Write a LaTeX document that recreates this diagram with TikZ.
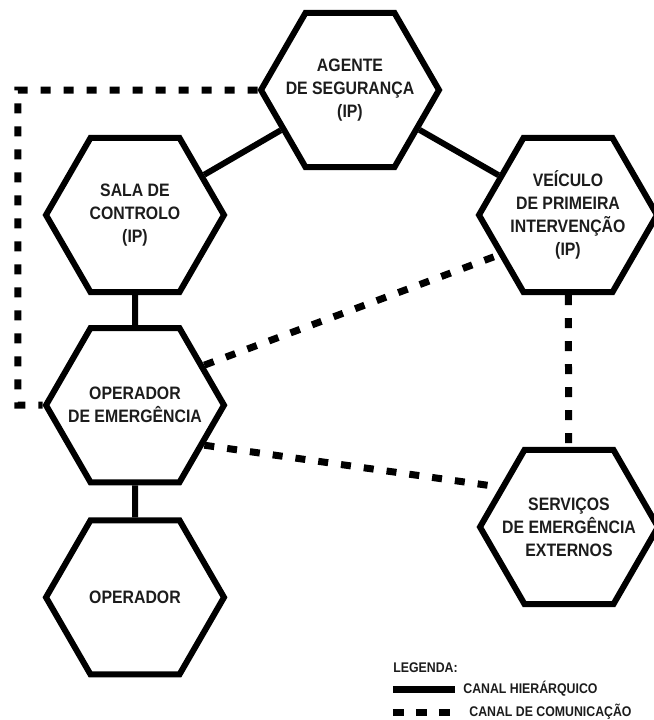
\documentclass[tikz,border=0pt]{standalone}
\usepackage{fontspec}
\setmainfont{Liberation Sans}[FakeStretch=0.88]
\usepackage{tikz}
\usetikzlibrary{positioning,shapes.geometric}
\definecolor{hexInk}{HTML}{000000}
\definecolor{labelInk}{HTML}{1C1C1C}

\begin{document}
\begin{tikzpicture}[x=0.5pt,y=-0.5pt,node distance=15pt]
  \tikzstyle{hexNode}=[draw=hexInk,line width=3pt,regular polygon,regular polygon sides=6,minimum size=89pt,inner sep=-12pt,align=center,text=labelInk,font=\fontsize{9}{11.5}\selectfont\bfseries]
  \tikzstyle{hierLine}=[draw=hexInk,line width=3pt]
  \tikzstyle{commLine}=[draw=hexInk,line width=3.5pt,dash pattern=on 5pt off 6.5pt]
  \tikzstyle{legendText}=[anchor=west,inner sep=0pt,text=labelInk,font=\fontsize{7}{8}\selectfont\bfseries]
  \useasboundingbox (0,0) rectangle (654,720);
  \node[hexNode] (agente) at (350,90) {AGENTE\\DE SEGURANÇA\\(IP)};
  \node[hexNode] (sala) at (135,215) {SALA DE\\CONTROLO\\(IP)};
  \node[hexNode,below=of sala] (opEmerg) {OPERADOR\\DE EMERGÊNCIA};
  \node[hexNode,below=16pt of opEmerg] (operador) {OPERADOR};
  \node[hexNode] (veiculo) at (568,215) {VEÍCULO\\DE PRIMEIRA\\INTERVENÇÃO\\(IP)};
  \node[hexNode] (servicos) at (569,527) {SERVIÇOS\\DE EMERGÊNCIA\\EXTERNOS};
  % canal hierarquico
  \draw[hierLine] (sala) -- (agente);
  \draw[hierLine] (agente) -- (veiculo);
  \draw[hierLine] (sala) -- (opEmerg);
  \draw[hierLine] (opEmerg) -- (operador);
  % canal de comunicacao
  \coordinate (leftBend) at (18,90);
  \draw[commLine] (agente.west) -- (leftBend) |- (opEmerg.west);
  \draw[commLine] (opEmerg.30) -- (veiculo.210);
  \draw[commLine] (opEmerg.-30) -- (servicos.150);
  \draw[commLine] (veiculo) -- (servicos);
  % legenda
  \node[legendText] (legenda) at (393,668) {LEGENDA:};
  \coordinate (hierStart) at (393,689);
  \coordinate (hierEnd) at (455,689);
  \draw[hierLine,line width=3.5pt] (hierStart) -- (hierEnd);
  \node[legendText] (hierText) at (463,689) {CANAL HIERÁRQUICO};
  \coordinate (commStart) at (393,712);
  \coordinate (commEnd) at (451,712);
  \draw[commLine,dash pattern=on 5.5pt off 6pt] (commStart) -- (commEnd);
  \node[legendText] (commText) at (469,712) {CANAL DE COMUNICAÇÃO};
\end{tikzpicture}
\end{document}
